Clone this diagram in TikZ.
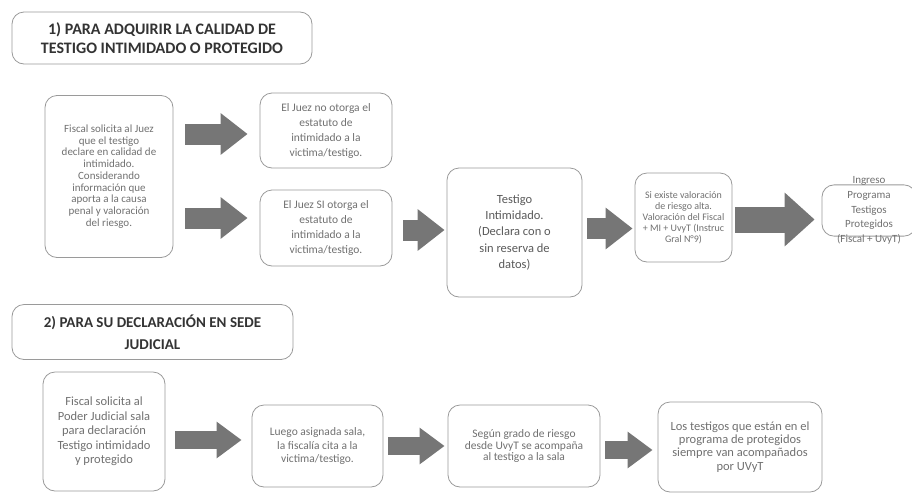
\documentclass[tikz,border=0pt]{standalone}
\usepackage{fontspec}
\setmainfont{Carlito}
\usetikzlibrary{arrows.meta}
\definecolor{boxline}{HTML}{9A9A9A}
\definecolor{boxtext}{HTML}{707070}
\definecolor{arrowfill}{HTML}{767676}

\begin{document}
\begin{tikzpicture}[x=1pt, y=-1pt,
    box/.style={rectangle, draw=boxline, line width=0.8pt, rounded corners=12pt,
      align=center, text=boxtext, inner sep=0pt},
    title/.style={box, text=black!80, font=\bfseries\fontsize{16}{18.3}\selectfont},
    bigarrow/.style={draw=arrowfill, line width=21pt,
      -{Triangle[length=27pt, width=40pt]}},
    lowarrow/.style={bigarrow, line width=18pt,
      -{Triangle[length=25pt, width=35pt]}}
  ]
  \useasboundingbox (0, 0) rectangle (912, 493);

  \node (T1) [title, minimum width=300pt, minimum height=52pt] at (162, 38) {
    1) PARA ADQUIRIR LA CALIDAD DE\\
    TESTIGO INTIMIDADO O PROTEGIDO
  };
  \node (A) [box, font=\fontsize{11}{11.7}\selectfont,
    minimum width=128pt, minimum height=162pt] at (109, 176.5) {
    Fiscal solicita al Juez\\ que el testigo\\ declare en calidad de\\ intimidado.\\
    Considerando\\ información que\\ aporta a la causa\\ penal y valoración\\ del riesgo.
  };
  \node (B1) [box, font=\fontsize{11.5}{15}\selectfont,
    minimum width=132pt, minimum height=75pt] at (326, 130.5) {
    El Juez no otorga el\\ estatuto de\\ intimidado a la\\ victima/testigo.
  };
  \node (B2) [box, font=\fontsize{11.5}{15}\selectfont,
    minimum width=132pt, minimum height=76pt] at (326, 228) {
    El Juez SI otorga el\\ estatuto de\\ intimidado a la\\ victima/testigo.
  };
  \node (C) [box, text=black!65, font=\fontsize{12.5}{16.3}\selectfont,
    minimum width=135pt, minimum height=129pt] at (514.5, 232.5) {
    Testigo\\ Intimidado.\\ (Declara con o\\ sin reserva de\\ datos)
  };
  \node (D) [box, font=\fontsize{10}{11}\selectfont,
    minimum width=97pt, minimum height=89pt] at (683.5, 217.5) {
    Si existe valoración\\ de riesgo alta.\\ Valoración del Fiscal\\
    + MI + UvyT (Instruc\\ Gral N°9)
  };
  \node (E) [box, font=\fontsize{11}{14.6}\selectfont,
    minimum width=94pt, inner ysep=-8pt] at (869, 210.5) {
    Ingreso\\ Programa\\ Testigos\\ Protegidos\\ (Fiscal + UvyT)
  };

  \draw[bigarrow, shorten <=12pt, shorten >=12pt]
    ([yshift=-3.5pt]A.east |- B1.west) -- ([yshift=-3.5pt]B1.west);
  \draw[bigarrow, shorten <=12pt, shorten >=12pt]
    ([yshift=10pt]A.east |- B2.west) -- ([yshift=10pt]B2.west);
  \draw[bigarrow, shorten <=11pt, shorten >=2pt]
    ([yshift=-2pt]B2.east) -- ([yshift=-2pt]B2.east -| C.west);
  \draw[bigarrow, shorten <=5pt, shorten >=2pt]
    ([yshift=4pt]C.east) -- ([yshift=4pt]C.east -| D.west);
  \draw[bigarrow, line width=26pt, -{Triangle[length=30pt, width=52pt]},
    shorten <=3pt, shorten >=7pt]
    ([yshift=-2pt]D.east) -- ([yshift=-2pt]D.east -| E.west);

  \node (T2) [title, font=\bfseries\fontsize{15}{22}\selectfont,
    minimum width=281pt, minimum height=55pt] at (152.5, 332) {
    2) PARA SU DECLARACIÓN EN SEDE\\ JUDICIAL
  };
  \node (F) [box, font=\fontsize{12.5}{14.6}\selectfont,
    minimum width=122pt, minimum height=119pt] at (104, 431.5) {
    Fiscal solicita al\\ Poder Judicial sala\\ para declaración\\
    Testigo intimidado\\ y protegido
  };
  \node (G) [box, font=\fontsize{11.5}{13.8}\selectfont,
    minimum width=131pt, minimum height=82pt] at (317.5, 446) {
    Luego asignada sala,\\ la fiscalía cita a la\\ victima/testigo.
  };
  \node (H) [box, font=\fontsize{11.5}{11.7}\selectfont,
    minimum width=152pt, minimum height=82pt] at (524, 446) {
    Según grado de riesgo\\ desde UvyT se acompaña\\ al testigo a la sala
  };
  \node (I) [box, font=\fontsize{12.5}{13.3}\selectfont,
    minimum width=164pt, minimum height=90pt] at (740, 447) {
    Los testigos que están en el\\ programa de protegidos\\
    siempre van acompañados\\ por UVyT
  };

  \draw[lowarrow, shorten <=10pt, shorten >=10pt]
    ([yshift=6pt]G.west -| F.east) -- ([yshift=6pt]G.west);
  \draw[lowarrow, shorten <=5pt, shorten >=3pt]
    (G.east) -- (H.west);
  \draw[lowarrow, shorten <=5pt, shorten >=5pt]
    ([yshift=-4pt]H.east) -- ([yshift=-4pt]H.east -| I.west);
\end{tikzpicture}
\end{document}
